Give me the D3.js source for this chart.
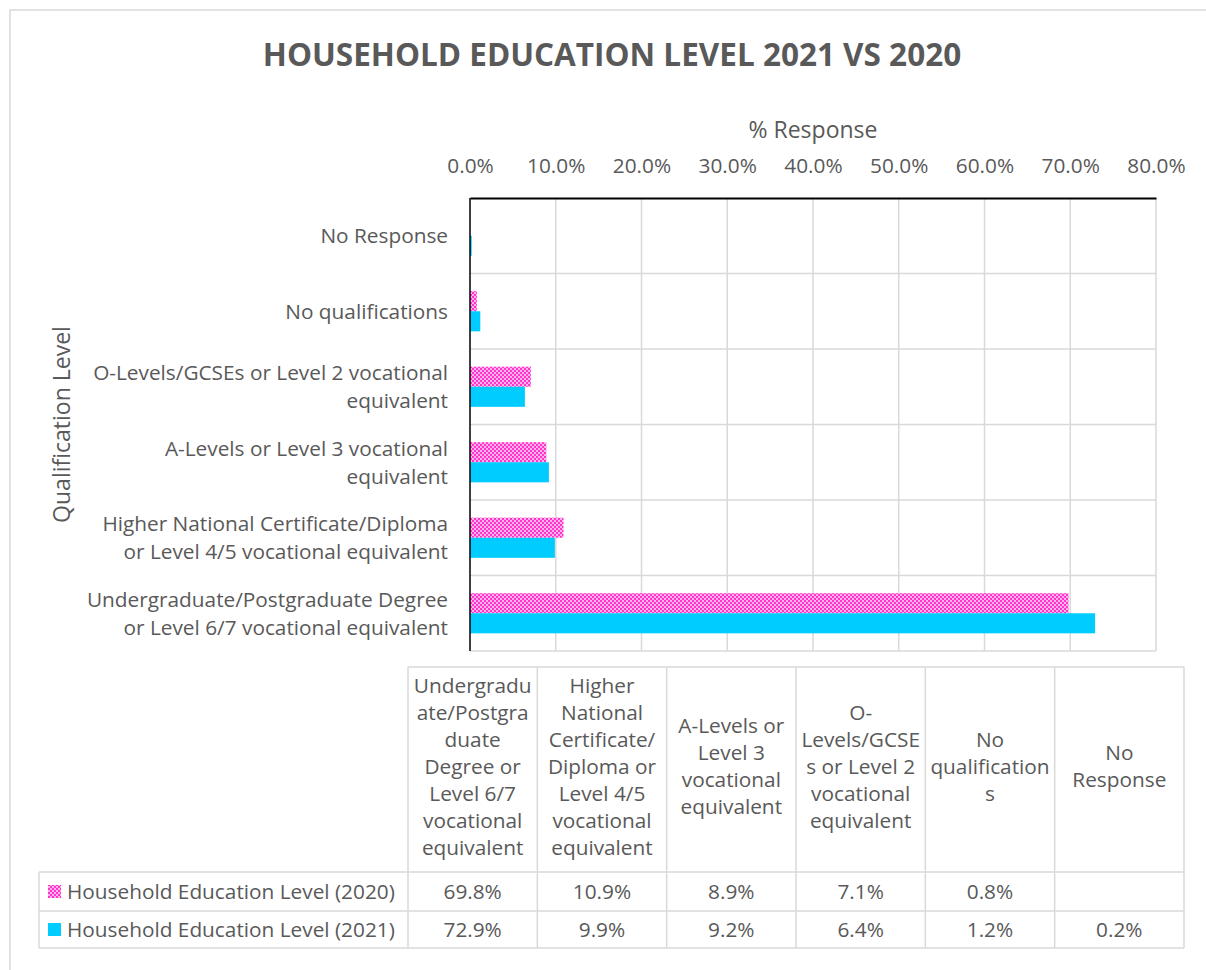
<!DOCTYPE html>
<html>
<head>
<meta charset="utf-8">
<script src="https://cdn.jsdelivr.net/npm/d3@7"></script>
<style>
  html, body { margin: 0; padding: 0; background: #fff; }
  svg { display: block; }
  text { font-family: "Open Sans", Lato, sans-serif; fill: #595959; }
</style>
</head>
<body>
<svg id="chart" width="1206" height="970"></svg>
<script>
// Qualification levels, top row of the plot first
const categories = [
  "No Response",
  "No qualifications",
  "O-Levels/GCSEs or Level 2 vocational equivalent",
  "A-Levels or Level 3 vocational equivalent",
  "Higher National Certificate/Diploma or Level 4/5 vocational equivalent",
  "Undergraduate/Postgraduate Degree or Level 6/7 vocational equivalent"
];
// Wrapped axis labels, same order as categories
const categoryLines = [
  ["No Response"],
  ["No qualifications"],
  ["O-Levels/GCSEs or Level 2 vocational", "equivalent"],
  ["A-Levels or Level 3 vocational", "equivalent"],
  ["Higher National Certificate/Diploma", "or Level 4/5 vocational equivalent"],
  ["Undergraduate/Postgraduate Degree", "or Level 6/7 vocational equivalent"]
];
const seriesNames = ["Household Education Level (2020)", "Household Education Level (2021)"];
// Percent values, same order as categories (null = no value)
const values2020 = [null, 0.8, 7.1, 8.9, 10.9, 69.8];
const values2021 = [0.2, 1.2, 6.4, 9.2, 9.9, 72.9];
const xTicks = [0, 10, 20, 30, 40, 50, 60, 70, 80];

// Data table header cells (table columns run bottom row to top row)
const tableHeaderLines = [
  ["Undergradu", "ate/Postgra", "duate", "Degree or", "Level 6/7", "vocational", "equivalent"],
  ["Higher", "National", "Certificate/", "Diploma or", "Level 4/5", "vocational", "equivalent"],
  ["A-Levels or", "Level 3", "vocational", "equivalent"],
  ["O-", "Levels/GCSE", "s or Level 2", "vocational", "equivalent"],
  ["No", "qualification", "s"],
  ["No", "Response"]
];

const svg = d3.select("#chart");
const TEXT = "#595959", GRID = "#d9d9d9";
const PINK = "#ff33cc", PINK_BG = "#ffb3ea", BLUE = "#00ccff";
const LABEL_SIZE = "20.8px";

// small checkerboard fill for the 2020 series
const defs = svg.append("defs");
const pat = defs.append("pattern").attr("id", "checker")
  .attr("patternUnits", "userSpaceOnUse").attr("width", 4).attr("height", 4);
pat.append("rect").attr("width", 4).attr("height", 4).attr("fill", PINK_BG);
pat.append("rect").attr("width", 2).attr("height", 2).attr("fill", PINK);
pat.append("rect").attr("x", 2).attr("y", 2).attr("width", 2).attr("height", 2).attr("fill", PINK);
const fills = ["url(#checker)", BLUE];

// chart frame
svg.append("rect").attr("x", 10).attr("y", 10).attr("width", 1220).attr("height", 990)
  .attr("fill", "none").attr("stroke", GRID).attr("stroke-width", 1.5);

// title
svg.append("text").attr("x", 612).attr("y", 55).attr("dy", "0.35em").attr("text-anchor", "middle")
  .style("font-size", "31.5px").style("font-weight", "bold")
  .text("HOUSEHOLD EDUCATION LEVEL 2021 VS 2020");

const plot = { left: 470, right: 1156, top: 198, bottom: 651 };

const x = d3.scaleLinear().domain([0, 80]).range([plot.left, plot.right]);
const y = d3.scaleBand().domain(categories).range([plot.top, plot.bottom]);
const groupH = y.bandwidth() / 1.88;
const ySeries = d3.scaleBand().domain(seriesNames)
  .range([(y.bandwidth() - groupH) / 2, (y.bandwidth() + groupH) / 2]);

// vertical gridlines
svg.append("g").selectAll("line").data(xTicks.slice(1)).join("line")
  .attr("x1", d => x(d)).attr("x2", d => x(d))
  .attr("y1", plot.top).attr("y2", plot.bottom)
  .attr("stroke", GRID).attr("stroke-width", 1.5);
// horizontal gridlines between categories
svg.append("g").selectAll("line").data(categories.slice(1).concat(["end"])).join("line")
  .attr("x1", plot.left).attr("x2", plot.right)
  .attr("y1", (d, i) => i < categories.length - 1 ? y(d) : plot.bottom)
  .attr("y2", (d, i) => i < categories.length - 1 ? y(d) : plot.bottom)
  .attr("stroke", GRID).attr("stroke-width", 1.5);

// bars
const seriesData = [values2020, values2021];
seriesData.forEach((vals, s) => {
  svg.append("g").selectAll("rect")
    .data(categories.map((c, i) => ({ c, v: vals[i] })).filter(d => d.v != null))
    .join("rect")
    .attr("x", x(0))
    .attr("y", d => y(d.c) + ySeries(seriesNames[s]))
    .attr("width", d => x(d.v) - x(0))
    .attr("height", ySeries.bandwidth())
    .attr("fill", fills[s]);
});

// top value axis
const xAxis = d3.axisTop(x).tickValues(xTicks).tickSize(0).tickPadding(25)
  .tickFormat(d => d.toFixed(1) + "%");
const gx = svg.append("g").attr("transform", `translate(0,${plot.top})`).call(xAxis);
gx.select(".domain").attr("stroke", "#000").attr("stroke-width", 2);
gx.selectAll("text").style("font-size", LABEL_SIZE)
  .style("font-family", "'Open Sans', sans-serif").attr("fill", TEXT);

// left category axis
svg.append("line").attr("x1", plot.left).attr("x2", plot.left)
  .attr("y1", plot.top).attr("y2", plot.bottom)
  .attr("stroke", "#000").attr("stroke-width", 1.5);
const catG = svg.append("g");
categories.forEach((c, i) => {
  const lines = categoryLines[i];
  const cy = y(c) + y.bandwidth() / 2;
  const t = catG.append("text").attr("text-anchor", "end").style("font-size", LABEL_SIZE);
  lines.forEach((ln, j) => {
    t.append("tspan").attr("x", 448)
      .attr("y", cy + (j - (lines.length - 1) / 2) * 28)
      .attr("dy", "0.35em").text(ln);
  });
});

// axis titles
svg.append("text").attr("x", (plot.left + plot.right) / 2).attr("y", 130).attr("dy", "0.35em")
  .attr("text-anchor", "middle").style("font-size", "23px").text("% Response");
svg.append("text").attr("transform", `translate(62,${(plot.top + plot.bottom) / 2}) rotate(-90)`)
  .attr("dy", "0.35em")
  .attr("text-anchor", "middle").style("font-size", "23px").text("Qualification Level");

// data table
const tbl = { left: 39, colLeft: 408, right: 1184, top: 667, headBottom: 872, row1: 911, bottom: 948 };
const colW = (tbl.right - tbl.colLeft) / tableHeaderLines.length;
const tg = svg.append("g").attr("stroke", GRID).attr("stroke-width", 1.5);
tg.append("line").attr("x1", tbl.colLeft).attr("x2", tbl.right).attr("y1", tbl.top).attr("y2", tbl.top);
[tbl.headBottom, tbl.row1, tbl.bottom].forEach(yy =>
  tg.append("line").attr("x1", tbl.left).attr("x2", tbl.right).attr("y1", yy).attr("y2", yy));
tg.append("line").attr("x1", tbl.left).attr("x2", tbl.left).attr("y1", tbl.headBottom).attr("y2", tbl.bottom);
d3.range(tableHeaderLines.length + 1).forEach(k =>
  tg.append("line").attr("x1", tbl.colLeft + k * colW).attr("x2", tbl.colLeft + k * colW)
    .attr("y1", tbl.top).attr("y2", tbl.bottom));

// header text
const headCy = (tbl.top + tbl.headBottom) / 2 - 3;
tableHeaderLines.forEach((lines, k) => {
  const t = svg.append("text").attr("text-anchor", "middle").style("font-size", LABEL_SIZE);
  lines.forEach((ln, j) => {
    t.append("tspan").attr("x", tbl.colLeft + (k + 0.5) * colW)
      .attr("y", headCy + (j - (lines.length - 1) / 2) * 27)
      .attr("dy", "0.35em").text(ln);
  });
});

// value rows with legend keys; table columns follow reversed category order
const rowY = [(tbl.headBottom + tbl.row1) / 2, (tbl.row1 + tbl.bottom) / 2];
const tableOrder = categories.slice().reverse();
seriesData.forEach((vals, s) => {
  const cy = rowY[s];
  svg.append("rect").attr("x", 48).attr("y", cy - 6.5).attr("width", 13).attr("height", 13)
    .attr("fill", fills[s]);
  svg.append("text").attr("x", 67).attr("y", cy).attr("dy", "0.35em")
    .style("font-size", LABEL_SIZE).text(seriesNames[s]);
  tableOrder.forEach((c, k) => {
    const v = vals[categories.indexOf(c)];
    if (v == null) return;
    svg.append("text").attr("x", tbl.colLeft + (k + 0.5) * colW).attr("y", cy).attr("dy", "0.35em")
      .attr("text-anchor", "middle").style("font-size", LABEL_SIZE).text(v.toFixed(1) + "%");
  });
});
</script>
</body>
</html>
